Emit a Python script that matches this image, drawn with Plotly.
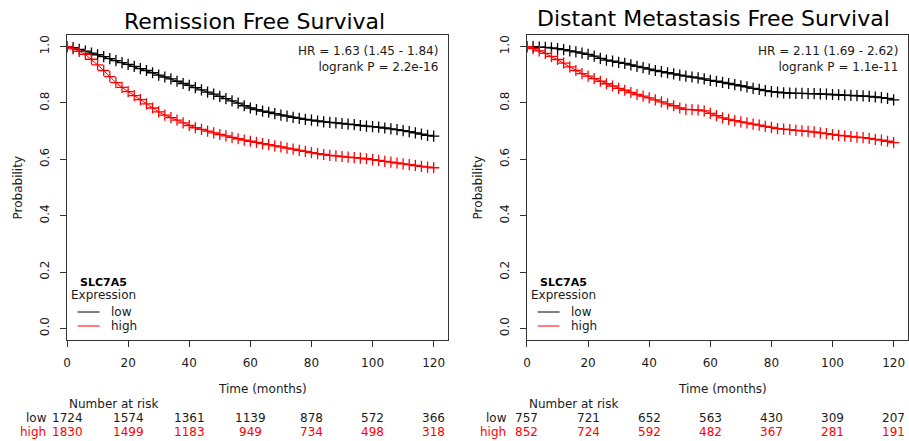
import plotly.graph_objects as go

# ---------------- data ----------------
months = list(range(0, 121, 2))

rfs_low = [1.000, 0.996, 0.990, 0.984, 0.977, 0.971, 0.964, 0.957, 0.950, 0.943,
           0.937, 0.930, 0.922, 0.915, 0.907, 0.899, 0.892, 0.885, 0.877, 0.869,
           0.862, 0.854, 0.846, 0.838, 0.831, 0.823, 0.815, 0.807, 0.799, 0.790,
           0.782, 0.776, 0.771, 0.767, 0.762, 0.757, 0.753, 0.749, 0.745, 0.742,
           0.739, 0.736, 0.733, 0.731, 0.729, 0.727, 0.725, 0.723, 0.720, 0.718,
           0.716, 0.714, 0.711, 0.708, 0.705, 0.702, 0.698, 0.694, 0.689, 0.685,
           0.682]
rfs_high = [1.000, 0.992, 0.983, 0.972, 0.955, 0.935, 0.915, 0.893, 0.872, 0.855,
            0.840, 0.826, 0.812, 0.797, 0.782, 0.768, 0.757, 0.748, 0.739, 0.729,
            0.720, 0.712, 0.706, 0.700, 0.694, 0.688, 0.683, 0.678, 0.673, 0.668,
            0.664, 0.660, 0.656, 0.652, 0.648, 0.644, 0.640, 0.636, 0.632, 0.628,
            0.624, 0.620, 0.617, 0.614, 0.612, 0.610, 0.608, 0.606, 0.604, 0.602,
            0.599, 0.596, 0.593, 0.590, 0.587, 0.584, 0.581, 0.578, 0.575, 0.572,
            0.570]
dmfs_low = [1.000, 1.000, 0.998, 0.997, 0.995, 0.993, 0.989, 0.985, 0.981, 0.977,
            0.972, 0.966, 0.958, 0.952, 0.948, 0.944, 0.940, 0.935, 0.930, 0.925,
            0.920, 0.915, 0.911, 0.907, 0.903, 0.899, 0.895, 0.892, 0.889, 0.885,
            0.880, 0.877, 0.873, 0.869, 0.865, 0.861, 0.857, 0.852, 0.848, 0.844,
            0.840, 0.838, 0.836, 0.835, 0.834, 0.834, 0.833, 0.833, 0.832, 0.831,
            0.830, 0.829, 0.828, 0.827, 0.826, 0.825, 0.823, 0.821, 0.819, 0.816,
            0.811]
dmfs_high = [1.000, 0.993, 0.985, 0.976, 0.965, 0.954, 0.941, 0.928, 0.915, 0.904,
             0.895, 0.886, 0.877, 0.868, 0.860, 0.852, 0.845, 0.837, 0.830, 0.824,
             0.818, 0.811, 0.804, 0.797, 0.790, 0.782, 0.777, 0.776, 0.775, 0.772,
             0.763, 0.755, 0.747, 0.742, 0.737, 0.733, 0.729, 0.725, 0.721, 0.717,
             0.713, 0.709, 0.707, 0.705, 0.703, 0.701, 0.699, 0.697, 0.694, 0.691,
             0.688, 0.685, 0.683, 0.681, 0.679, 0.677, 0.674, 0.671, 0.668, 0.664,
             0.659]

risk_times = [0, 20, 40, 60, 80, 100, 120]
rfs_risk_low = [1724, 1574, 1361, 1139, 878, 572, 366]
rfs_risk_high = [1830, 1499, 1183, 949, 734, 498, 318]
dmfs_risk_low = [757, 721, 652, 563, 430, 309, 207]
dmfs_risk_high = [852, 724, 592, 482, 367, 281, 191]

titles = ["Remission Free Survival", "Distant Metastasis Free Survival"]
hr_text = ["HR = 1.63 (1.45 - 1.84)<br>logrank P = 2.2e-16",
           "HR = 2.11 (1.69 - 2.62)<br>logrank P = 1.1e-11"]
x_ticks = [0, 20, 40, 60, 80, 100, 120]
y_ticks = [0.0, 0.2, 0.4, 0.6, 0.8, 1.0]
y_tick_labels = ["0.0", "0.2", "0.4", "0.6", "0.8", "1.0"]

# ---------------- figure ----------------
W, H = 909, 441
FONT = "DejaVu Sans"
TXT = "#1a1a1a"
RED = "#ff0000"
BLK = "#000000"

def px(x):
    return x / W

def py(y):
    return 1 - y / H

fig = go.Figure()

panels = [
    dict(xa="x", ya="y", low=rfs_low, high=rfs_high,
         rl=rfs_risk_low, rh=rfs_risk_high, x0=63, x1=446),
    dict(xa="x2", ya="y2", low=dmfs_low, high=dmfs_high,
         rl=dmfs_risk_low, rh=dmfs_risk_high, x0=525, x1=908),
]

for p in panels:
    for vals, col in ((p["low"], BLK), (p["high"], RED)):
        fig.add_trace(go.Scatter(
            x=months, y=vals, xaxis=p["xa"], yaxis=p["ya"],
            mode="lines+markers", line=dict(color=col, width=1, shape="linear"),
            marker=dict(symbol="cross-thin", size=8, line=dict(color=col, width=1.3)),
            showlegend=False, hoverinfo="skip"))

axis_common = dict(
    showline=True, mirror=True, linecolor="#333333", linewidth=1,
    ticks="outside", ticklen=6, tickcolor="#333333", tickwidth=1,
    showgrid=False, zeroline=False,
    tickfont=dict(family=FONT, size=12, color=TXT),
)

top, bottom = 35, 340
for i, p in enumerate(panels):
    sfx = "" if i == 0 else str(i + 1)
    fig.layout["xaxis" + sfx] = dict(
        axis_common, domain=[px(p["x0"]), px(p["x1"])], range=[-0.1, 124.7],
        tickvals=x_ticks, anchor="y" + sfx, ticklabelstandoff=6)
    fig.layout["yaxis" + sfx] = dict(
        axis_common, domain=[py(bottom), py(top)], range=[-0.041, 1.041],
        tickvals=y_ticks, ticktext=y_tick_labels, tickangle=-90, anchor="x" + sfx,
        ticklabelstandoff=6)

ann = []
def text(x, y, s, size=12, color=TXT, xanchor="center", xref="paper", angle=0):
    ann.append(dict(x=x, y=y, xref=xref, yref="paper", text=s, showarrow=False,
                    xanchor=xanchor, yanchor="middle", textangle=angle,
                    font=dict(family=FONT, size=size, color=color)))

shapes = []

# titles
text(px(252), py(21), titles[0], size=22, color="#000000")
text(px(713), py(19), titles[1], size=22, color="#000000")

for i, p in enumerate(panels):
    xr = "x" if i == 0 else "x2"
    # HR text
    ann.append(dict(x=px(p["x1"] - 8.5), y=py(42), xref="paper", yref="paper",
                    text=hr_text[i], showarrow=False, xanchor="right", yanchor="top",
                    align="right", font=dict(family=FONT, size=12, color=TXT)))
    # y axis title
    text(px(p["x0"] - 48), py(187.5), "Probability", angle=-90)
    # x axis title
    text(px((p["x0"] + p["x1"]) / 2 + 5), py(389), "Time (months)")
    # legend
    lx = p["x0"]
    text(px(lx + 36.5), py(282), "<b>SLC7A5</b>", size=11, color="#000000")
    text(px(lx + 36.5), py(294.5), "Expression")
    for yy, col, lab in ((312, BLK, "low"), (326, RED, "high")):
        shapes.append(dict(type="line", xref="paper", yref="paper",
                           x0=px(lx + 11), x1=px(lx + 33), y0=py(yy), y1=py(yy),
                           line=dict(color=col, width=1)))
        text(px(lx + 42.5), py(yy), lab, xanchor="left")
    # number at risk
    text(px(lx), py(404), "Number at risk", xanchor="left")
    text(px(lx - 18), py(418), "low", xanchor="right")
    text(px(lx - 18.5), py(432), "high", xanchor="right", color=RED)
    for t, a, b in zip(risk_times, p["rl"], p["rh"]):
        ann.append(dict(x=t, y=py(418), xref=xr, yref="paper", text=str(a),
                        showarrow=False, xanchor="center", yanchor="middle",
                        font=dict(family=FONT, size=12, color=TXT)))
        ann.append(dict(x=t, y=py(432), xref=xr, yref="paper", text=str(b),
                        showarrow=False, xanchor="center", yanchor="middle",
                        font=dict(family=FONT, size=12, color=RED)))

fig.update_layout(
    width=W, height=H, margin=dict(l=0, r=0, t=0, b=0),
    paper_bgcolor="white", plot_bgcolor="white",
    annotations=ann, shapes=shapes, showlegend=False,
)

fig.write_html(
    "out.html",
    config={"displayModeBar": False, "staticPlot": True},
    post_script="document.body.style.margin='0';document.body.style.overflow='hidden';",
)
